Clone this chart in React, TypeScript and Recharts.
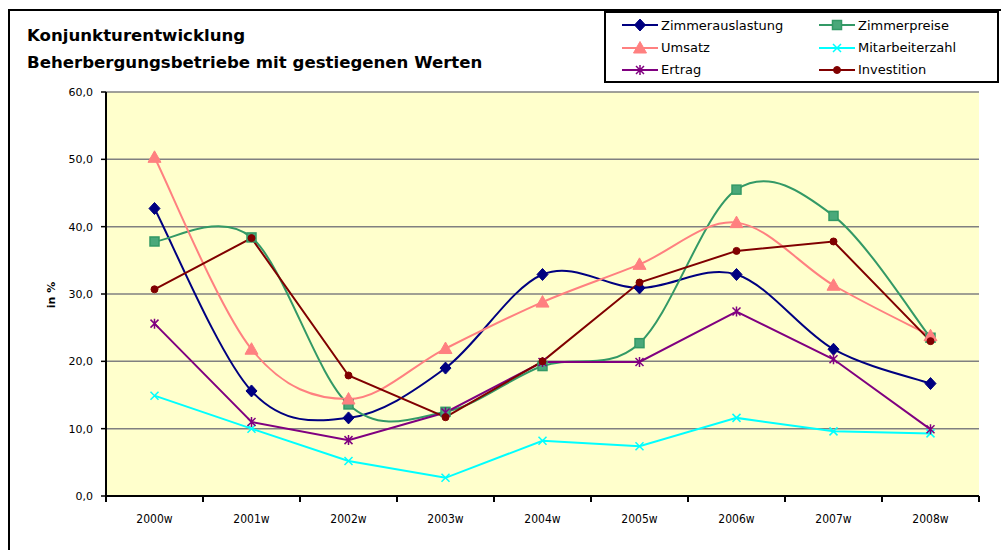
import { LineChart, Line, XAxis, YAxis, CartesianGrid } from "recharts";

const categories = ["2000w", "2001w", "2002w", "2003w", "2004w", "2005w", "2006w", "2007w", "2008w"];
const zimmerauslastung = [42.7, 15.6, 11.6, 19.0, 32.9, 30.9, 32.9, 21.8, 16.7];
const zimmerpreise = [37.8, 38.4, 13.6, 12.5, 19.3, 22.7, 45.5, 41.6, 23.5];
const umsatz = [50.3, 21.8, 14.4, 21.9, 28.8, 34.4, 40.6, 31.3, 23.8];
const mitarbeiterzahl = [14.9, 10.0, 5.2, 2.7, 8.2, 7.4, 11.6, 9.6, 9.3];
const ertrag = [25.6, 11.0, 8.3, 12.4, 19.9, 19.9, 27.4, 20.3, 9.9];
const investition = [30.7, 38.3, 17.9, 11.7, 20.0, 31.7, 36.4, 37.8, 23.0];
const yTicks = [0, 10, 20, 30, 40, 50, 60];

const series = [
  { key: "Zimmerauslastung", values: zimmerauslastung, color: "#000080", shape: "diamond", smooth: true },
  { key: "Zimmerpreise", values: zimmerpreise, color: "#339966", shape: "square", smooth: true },
  { key: "Umsatz", values: umsatz, color: "#FF8080", shape: "triangle", smooth: true },
  { key: "Mitarbeiterzahl", values: mitarbeiterzahl, color: "#00FFFF", shape: "x", smooth: false },
  { key: "Ertrag", values: ertrag, color: "#800080", shape: "star", smooth: false },
  { key: "Investition", values: investition, color: "#800000", shape: "circle", smooth: false },
];

const data = categories.map((c, i) => {
  const row: Record<string, any> = { name: c };
  series.forEach(s => { row[s.key] = s.values[i]; });
  return row;
});

// Excel-like smoothing (Catmull-Rom through the points)
function excelSmooth(context: any) {
  let pts: number[][] = [];
  return {
    areaStart() {},
    areaEnd() {},
    lineStart() { pts = []; },
    point(x: number, y: number) { pts.push([+x, +y]); },
    lineEnd() {
      if (!pts.length) return;
      context.moveTo(pts[0][0], pts[0][1]);
      for (let i = 0; i < pts.length - 1; i++) {
        const p0 = pts[i - 1] || pts[i];
        const p1 = pts[i];
        const p2 = pts[i + 1];
        const p3 = pts[i + 2] || p2;
        context.bezierCurveTo(
          p1[0] + (p2[0] - p0[0]) / 6, p1[1] + (p2[1] - p0[1]) / 6,
          p2[0] - (p3[0] - p1[0]) / 6, p2[1] - (p3[1] - p1[1]) / 6,
          p2[0], p2[1]
        );
      }
    },
  };
}

function Marker({ shape, color, cx, cy }: { shape: string; color: string; cx: number; cy: number }) {
  if (shape === "diamond") {
    return <path d={`M${cx},${cy - 6}L${cx + 5.5},${cy}L${cx},${cy + 6}L${cx - 5.5},${cy}Z`} fill={color} stroke={color} />;
  }
  if (shape === "square") {
    return <rect x={cx - 4.5} y={cy - 4.5} width={9} height={9} fill="#4aa87a" stroke={color} strokeWidth={1.5} />;
  }
  if (shape === "triangle") {
    return <path d={`M${cx},${cy - 6.5}L${cx + 6.5},${cy + 5}L${cx - 6.5},${cy + 5}Z`} fill={color} stroke={color} />;
  }
  if (shape === "x") {
    return <path d={`M${cx - 4},${cy - 4}L${cx + 4},${cy + 4}M${cx - 4},${cy + 4}L${cx + 4},${cy - 4}`} stroke={color} strokeWidth={1.5} />;
  }
  if (shape === "star") {
    return <path d={`M${cx - 4},${cy - 4}L${cx + 4},${cy + 4}M${cx - 4},${cy + 4}L${cx + 4},${cy - 4}M${cx},${cy - 5}L${cx},${cy + 5}`} stroke={color} strokeWidth={1.5} />;
  }
  return <circle cx={cx} cy={cy} r={3.5} fill={color} stroke={color} />;
}

function XTick(props: any) {
  const { x, y, payload, index } = props;
  const half = payload.offset || 0;
  return (
    <g>
      <line x1={x - half} y1={y} x2={x - half} y2={y + 6} stroke="#000" strokeWidth={2} />
      {index === categories.length - 1 && (
        <line x1={x + half} y1={y} x2={x + half} y2={y + 6} stroke="#000" strokeWidth={2} />
      )}
      <text x={x} y={y + 27} textAnchor="middle" fontSize={12} fill="#000"
        fontFamily="'Liberation Sans Narrow', 'DejaVu Sans Condensed', sans-serif">
        {payload.value}
      </text>
    </g>
  );
}

function LegendBox() {
  return (
    <div style={{
      position: "absolute", left: 604, top: 11, width: 391, height: 68, border: "2px solid #000", background: "#fff",
      display: "grid", gridTemplateColumns: "197px 194px", gridTemplateRows: "24px 21px 23px",
      fontFamily: "'DejaVu Sans', Verdana, sans-serif", fontSize: 13, color: "#000",
    }}>
      {series.map(s => (
        <div key={s.key} style={{ display: "flex", alignItems: "center" }}>
          <svg width={56} height={16} style={{ marginLeft: 14 }}>
            <line x1={2} y1={8} x2={38} y2={8} stroke={s.color} strokeWidth={2} />
            <Marker shape={s.shape} color={s.color} cx={20} cy={8} />
          </svg>
          <span style={{ marginLeft: -15 }}>{s.key}</span>
        </div>
      ))}
    </div>
  );
}

export default function App() {
  return (
    <div style={{ position: "absolute", left: 0, top: 0, width: 1001, height: 550, overflow: "hidden", background: "#fff" }}>
      <div style={{ position: "absolute", left: 8, top: 9, width: 1020, height: 570, border: "2px solid #000" }} />
      <div style={{ position: "absolute", left: 0, top: 0 }}>
        <LineChart width={1001} height={550} data={data} margin={{ top: 92, right: 22, bottom: 24, left: 46 }}>
          <CartesianGrid horizontal vertical={false} stroke="#808080" strokeWidth={1.5} fill="#FFFFCC" fillOpacity={1} />
          <XAxis dataKey="name" scale="band" tickLine={false} tickSize={0} tickMargin={0} height={30} interval={0}
            axisLine={{ stroke: "#000", strokeWidth: 2 }} tick={<XTick />} />
          <YAxis domain={[0, 60]} ticks={yTicks} width={60} tickSize={5} tickMargin={8}
            axisLine={{ stroke: "#000", strokeWidth: 2 }} tickLine={{ stroke: "#000", strokeWidth: 1.5 }}
            tickFormatter={(v: number) => v.toFixed(1).replace(".", ",")}
            tick={{ fontSize: 11, fill: "#000", fontFamily: "'DejaVu Sans', Verdana, sans-serif" }} />
          {series.map(s => (
            <Line key={s.key} dataKey={s.key} name={s.key} type={s.smooth ? (excelSmooth as any) : "linear"}
              stroke={s.color} strokeWidth={2} isAnimationActive={false}
              dot={(p: any) => <Marker key={`${s.key}-${p.index}`} shape={s.shape} color={s.color} cx={p.cx} cy={p.cy} />}
              activeDot={false} />
          ))}
        </LineChart>
      </div>
      <div style={{ position: "absolute", left: 27, top: 22, fontFamily: "'DejaVu Sans', Verdana, sans-serif", fontWeight: "bold", fontSize: 16.6, lineHeight: "27px", color: "#000" }}>
        <div>Konjunkturentwicklung</div>
        <div>Beherbergungsbetriebe mit gestiegenen Werten</div>
      </div>
      <div style={{ position: "absolute", left: 51, top: 295, transform: "translate(-50%, -50%) rotate(-90deg)", fontFamily: "'DejaVu Sans', Verdana, sans-serif", fontWeight: "bold", fontSize: 11, whiteSpace: "nowrap" }}>
        in %
      </div>
      <LegendBox />
    </div>
  );
}
